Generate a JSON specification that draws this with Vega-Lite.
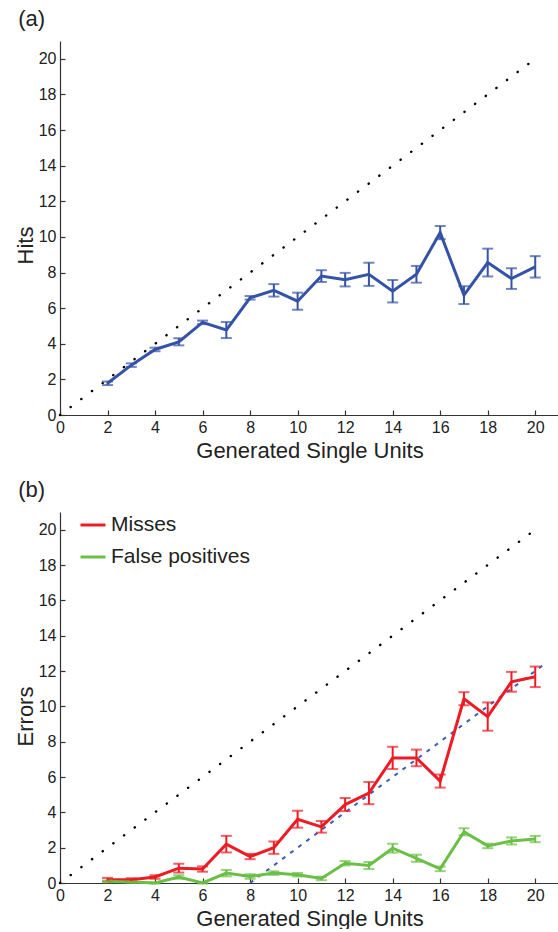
{
  "$schema": "https://vega.github.io/schema/vega-lite/v6.json",
  "padding": {"left": 14, "top": 8, "right": 0, "bottom": 0},
  "background": "white",
  "datasets": {
    "diag": [{"n": 0, "v": 0}, {"n": 20, "v": 20}],
    "fit": [{"n": 8, "v": 0}, {"n": 20.4, "v": 12.4}],
    "hits": [
      {"n": 2, "v": 1.78, "err": 0.1},
      {"n": 3, "v": 2.8, "err": 0.1},
      {"n": 4, "v": 3.68, "err": 0.1},
      {"n": 5, "v": 4.11, "err": 0.2},
      {"n": 6, "v": 5.2, "err": 0.1},
      {"n": 7, "v": 4.77, "err": 0.45},
      {"n": 8, "v": 6.58, "err": 0.1},
      {"n": 9, "v": 7.0, "err": 0.35},
      {"n": 10, "v": 6.39, "err": 0.48},
      {"n": 11, "v": 7.8, "err": 0.33},
      {"n": 12, "v": 7.6, "err": 0.38},
      {"n": 13, "v": 7.9, "err": 0.65},
      {"n": 14, "v": 6.95, "err": 0.63},
      {"n": 15, "v": 7.9, "err": 0.47},
      {"n": 16, "v": 10.24, "err": 0.37},
      {"n": 17, "v": 6.73, "err": 0.5},
      {"n": 18, "v": 8.56, "err": 0.78},
      {"n": 19, "v": 7.66, "err": 0.58},
      {"n": 20, "v": 8.32, "err": 0.6}
    ],
    "errs": [
      {"n": 2, "series": "Misses", "v": 0.19, "err": 0.1},
      {"n": 3, "series": "Misses", "v": 0.19, "err": 0.08},
      {"n": 4, "series": "Misses", "v": 0.34, "err": 0.1},
      {"n": 5, "series": "Misses", "v": 0.84, "err": 0.25},
      {"n": 6, "series": "Misses", "v": 0.79, "err": 0.15},
      {"n": 7, "series": "Misses", "v": 2.2, "err": 0.47},
      {"n": 8, "series": "Misses", "v": 1.5, "err": 0.15},
      {"n": 9, "series": "Misses", "v": 2.0, "err": 0.35},
      {"n": 10, "series": "Misses", "v": 3.61, "err": 0.48},
      {"n": 11, "series": "Misses", "v": 3.18, "err": 0.33},
      {"n": 12, "series": "Misses", "v": 4.44, "err": 0.37},
      {"n": 13, "series": "Misses", "v": 5.09, "err": 0.63},
      {"n": 14, "series": "Misses", "v": 7.08, "err": 0.63},
      {"n": 15, "series": "Misses", "v": 7.08, "err": 0.47},
      {"n": 16, "series": "Misses", "v": 5.77, "err": 0.37},
      {"n": 17, "series": "Misses", "v": 10.43, "err": 0.37},
      {"n": 18, "series": "Misses", "v": 9.42, "err": 0.8},
      {"n": 19, "series": "Misses", "v": 11.39, "err": 0.56},
      {"n": 20, "series": "Misses", "v": 11.67, "err": 0.58},
      {"n": 2, "series": "False positives", "v": 0.09, "err": 0.05},
      {"n": 3, "series": "False positives", "v": 0.06, "err": 0.04},
      {"n": 4, "series": "False positives", "v": 0.0, "err": 0.03},
      {"n": 5, "series": "False positives", "v": 0.34, "err": 0.1},
      {"n": 6, "series": "False positives", "v": 0.0, "err": 0.03},
      {"n": 7, "series": "False positives", "v": 0.56, "err": 0.18},
      {"n": 8, "series": "False positives", "v": 0.37, "err": 0.13},
      {"n": 9, "series": "False positives", "v": 0.56, "err": 0.1},
      {"n": 10, "series": "False positives", "v": 0.47, "err": 0.1},
      {"n": 11, "series": "False positives", "v": 0.26, "err": 0.1},
      {"n": 12, "series": "False positives", "v": 1.12, "err": 0.12},
      {"n": 13, "series": "False positives", "v": 0.99, "err": 0.2},
      {"n": 14, "series": "False positives", "v": 1.97, "err": 0.25},
      {"n": 15, "series": "False positives", "v": 1.4, "err": 0.2},
      {"n": 16, "series": "False positives", "v": 0.8, "err": 0.13},
      {"n": 17, "series": "False positives", "v": 2.9, "err": 0.2},
      {"n": 18, "series": "False positives", "v": 2.1, "err": 0.13},
      {"n": 19, "series": "False positives", "v": 2.38, "err": 0.2},
      {"n": 20, "series": "False positives", "v": 2.49, "err": 0.18}
    ]
  },
  "config": {
    "view": {"stroke": null},
    "font": "Liberation Sans",
    "axis": {
      "grid": false,
      "domainColor": "#333333",
      "tickColor": "#333333",
      "domainWidth": 1.2,
      "tickWidth": 1.2,
      "tickSize": -5,
      "labelPadding": 9,
      "labelFontSize": 16,
      "labelColor": "#222222",
      "labelFlush": false,
      "labelOverlap": false,
      "titleFontSize": 22,
      "titleFontWeight": "normal",
      "titleColor": "#222222"
    },
    "axisX": {"titlePadding": 5},
    "axisY": {"titlePadding": 1, "titleY": 204},
    "title": {"fontSize": 22, "fontWeight": "normal", "anchor": "start", "frame": "bounds", "color": "#222222", "offset": 10, "dx": 4},
    "concat": {"spacing": 18}
  },
  "vconcat": [
    {
      "title": {"text": "(a)"},
      "width": 499,
      "height": 374,
      "encoding": {
        "x": {"field": "n", "type": "quantitative", "scale": {"domain": [0, 21], "nice": false}, "axis": {"values": [0, 2, 4, 6, 8, 10, 12, 14, 16, 18, 20], "title": "Generated Single Units"}},
        "y": {"field": "v", "type": "quantitative", "scale": {"domain": [0, 21], "nice": false}, "axis": {"values": [0, 2, 4, 6, 8, 10, 12, 14, 16, 18, 20], "title": "Hits"}}
      },
      "layer": [
        {
          "data": {"name": "diag"},
          "mark": {"type": "line", "color": "#000000", "strokeWidth": 2.4, "strokeDash": [0.2, 13.1], "strokeCap": "round"}
        },
        {
          "data": {"name": "hits"},
          "mark": {"type": "line", "color": "#3553a6", "strokeWidth": 3}
        },
        {
          "data": {"name": "hits"},
          "mark": {"type": "errorbar", "color": "#3553a6", "thickness": 2, "ticks": {"size": 11, "thickness": 2}},
          "encoding": {"yError": {"field": "err"}}
        }
      ]
    },
    {
      "title": {"text": "(b)"},
      "width": 499,
      "height": 371,
      "encoding": {
        "x": {"field": "n", "type": "quantitative", "scale": {"domain": [0, 21], "nice": false}, "axis": {"values": [0, 2, 4, 6, 8, 10, 12, 14, 16, 18, 20], "title": "Generated Single Units"}},
        "y": {"field": "v", "type": "quantitative", "scale": {"domain": [0, 21], "nice": false}, "axis": {"values": [0, 2, 4, 6, 8, 10, 12, 14, 16, 18, 20], "title": "Errors"}}
      },
      "layer": [
        {
          "data": {"name": "diag"},
          "mark": {"type": "line", "color": "#000000", "strokeWidth": 2.4, "strokeDash": [0.2, 13.1], "strokeCap": "round"}
        },
        {
          "data": {"name": "fit"},
          "mark": {"type": "line", "color": "#3a5bb8", "strokeWidth": 2, "strokeDash": [4, 6]}
        },
        {
          "data": {"name": "errs"},
          "mark": {"type": "line", "strokeWidth": 3},
          "encoding": {
            "color": {
              "field": "series",
              "type": "nominal",
              "scale": {"domain": ["Misses", "False positives"], "range": ["#ec1c24", "#6abf45"]},
              "legend": {
                "title": null,
                "orient": "none",
                "legendX": 19,
                "legendY": 470,
                "symbolType": "stroke",
                "symbolSize": 625,
                "symbolStrokeWidth": 3,
                "labelFontSize": 21,
                "labelColor": "#222222",
                "labelOffset": 4,
                "rowPadding": 8
              }
            }
          }
        },
        {
          "data": {"name": "errs"},
          "mark": {"type": "errorbar", "thickness": 2, "ticks": {"size": 11, "thickness": 2}},
          "encoding": {
            "yError": {"field": "err"},
            "color": {"field": "series", "type": "nominal", "legend": null}
          }
        }
      ]
    }
  ]
}
